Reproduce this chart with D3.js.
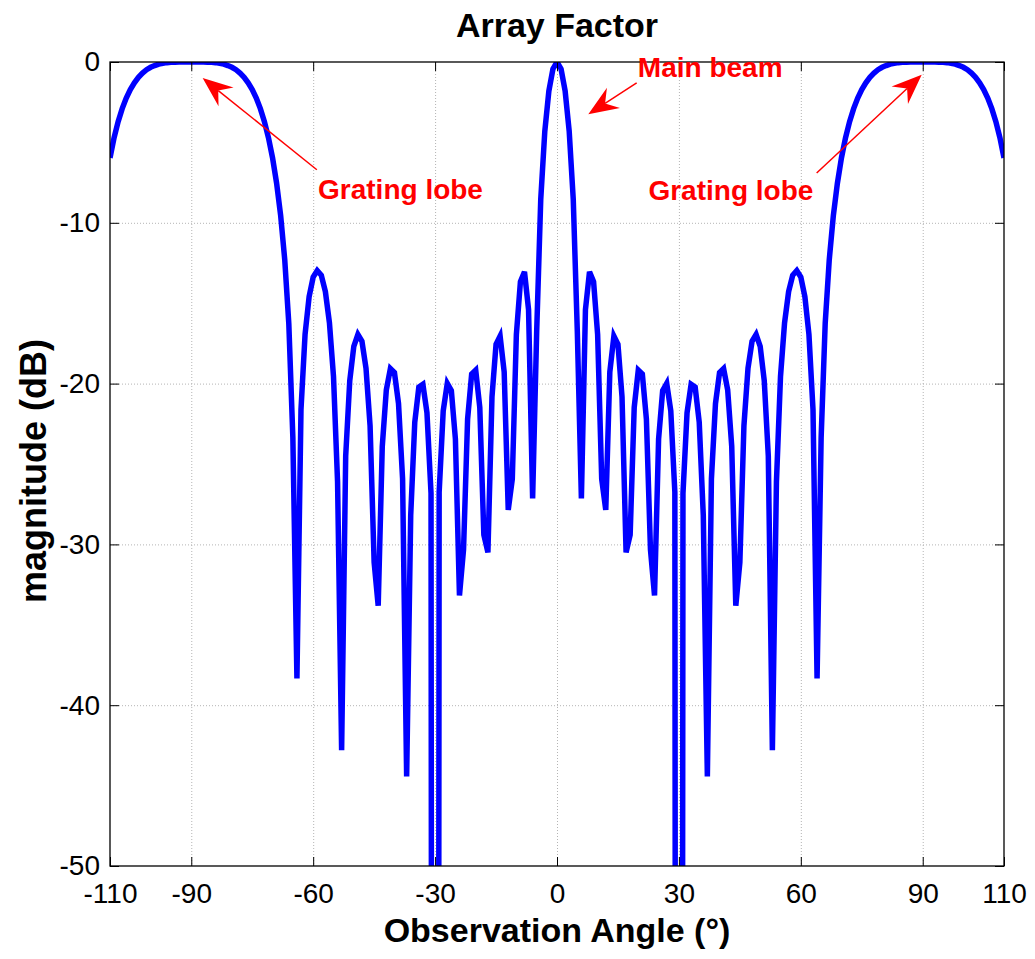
<!DOCTYPE html>
<html>
<head>
<meta charset="utf-8">
<script src="https://cdn.jsdelivr.net/npm/d3@7"></script>
<style>
body { margin: 0; background: #fff; }
svg { display: block; font-family: Arial, "Liberation Sans", sans-serif; }
</style>
</head>
<body>
<svg width="1035" height="959"></svg>
<script>
// observation angle (deg), one sample per degree
var angleDeg = [
  -110,-109,-108,-107,-106,-105,-104,-103,-102,-101,
  -100,-99,-98,-97,-96,-95,-94,-93,-92,-91,
  -90,-89,-88,-87,-86,-85,-84,-83,-82,-81,
  -80,-79,-78,-77,-76,-75,-74,-73,-72,-71,
  -70,-69,-68,-67,-66,-65,-64,-63,-62,-61,
  -60,-59,-58,-57,-56,-55,-54,-53,-52,-51,
  -50,-49,-48,-47,-46,-45,-44,-43,-42,-41,
  -40,-39,-38,-37,-36,-35,-34,-33,-32,-31,
  -30,-29,-28,-27,-26,-25,-24,-23,-22,-21,
  -20,-19,-18,-17,-16,-15,-14,-13,-12,-11,
  -10,-9,-8,-7,-6,-5,-4,-3,-2,-1,
  0,1,2,3,4,5,6,7,8,9,
  10,11,12,13,14,15,16,17,18,19,
  20,21,22,23,24,25,26,27,28,29,
  30,31,32,33,34,35,36,37,38,39,
  40,41,42,43,44,45,46,47,48,49,
  50,51,52,53,54,55,56,57,58,59,
  60,61,62,63,64,65,66,67,68,69,
  70,71,72,73,74,75,76,77,78,79,
  80,81,82,83,84,85,86,87,88,89,
  90,91,92,93,94,95,96,97,98,99,
  100,101,102,103,104,105,106,107,108,109,
  110
];

// magnitude (dB), nulls at +-30 fall far below the axis
var magnitudeDb = [
  -5.96,-4.71,-3.71,-2.90,-2.24,-1.71,-1.29,-0.95,-0.69,-0.48,
  -0.33,-0.22,-0.13,-0.08,-0.04,-0.02,-0.01,0,0,0,
  0,0,0,0,-0.01,-0.02,-0.04,-0.08,-0.13,-0.22,
  -0.33,-0.48,-0.69,-0.95,-1.29,-1.71,-2.24,-2.90,-3.71,-4.71,
  -5.96,-7.54,-9.56,-12.29,-16.26,-23.37,-38.33,-21.62,-16.95,-14.59,
  -13.38,-12.97,-13.26,-14.28,-16.22,-19.56,-26.11,-42.80,-24.51,-19.82,
  -17.68,-16.95,-17.37,-19.05,-22.62,-31.11,-33.81,-23.91,-20.39,-19.07,
  -19.32,-21.24,-25.93,-44.43,-28.20,-22.40,-20.22,-20.04,-21.82,-26.83,
  -300,-26.75,-21.69,-19.98,-20.43,-23.45,-33.18,-30.32,-22.21,-19.41,
  -19.16,-21.48,-29.41,-30.50,-20.82,-17.56,-17.05,-19.28,-27.86,-25.94,
  -16.95,-13.66,-13.05,-15.40,-27.14,-16.76,-8.54,-4.30,-1.80,-0.43,
  0,-0.43,-1.80,-4.30,-8.54,-16.76,-27.14,-15.40,-13.05,-13.66,
  -16.95,-25.94,-27.86,-19.28,-17.05,-17.56,-20.82,-30.50,-29.41,-21.48,
  -19.16,-19.41,-22.21,-30.32,-33.18,-23.45,-20.43,-19.98,-21.69,-26.75,
  -300,-26.83,-21.82,-20.04,-20.22,-22.40,-28.20,-44.43,-25.93,-21.24,
  -19.32,-19.07,-20.39,-23.91,-33.81,-31.11,-22.62,-19.05,-17.37,-16.95,
  -17.68,-19.82,-24.51,-42.80,-26.11,-19.56,-16.22,-14.28,-13.26,-12.97,
  -13.38,-14.59,-16.95,-21.62,-38.33,-23.37,-16.26,-12.29,-9.56,-7.54,
  -5.96,-4.71,-3.71,-2.90,-2.24,-1.71,-1.29,-0.95,-0.69,-0.48,
  -0.33,-0.22,-0.13,-0.08,-0.04,-0.02,-0.01,0,0,0,
  0,0,0,0,-0.01,-0.02,-0.04,-0.08,-0.13,-0.22,
  -0.33,-0.48,-0.69,-0.95,-1.29,-1.71,-2.24,-2.90,-3.71,-4.71,
  -5.96
];

var xTicks = [-110, -90, -60, -30, 0, 30, 60, 90, 110];
var yTicks = [0, -10, -20, -30, -40, -50];
var xGrid = [-90, -60, -30, 0, 30, 60, 90];
var yGrid = [-10, -20, -30, -40];

// annotations, in data units: label spot, arrow tail, arrow tip
var noteTexts = ["Grating lobe", "Main beam", "Grating lobe"];
var noteTextAt = [[-58.8, -8.5], [19.9, -0.95], [22.5, -8.6]];
var noteTail = [[-59.1, -6.7], [19.6, -1.3], [63.9, -6.9]];
var noteTip = [[-87.2, -1.0], [7.7, -3.25], [89.75, -0.8]];

var svg = d3.select("svg");
var plotLeft = 110, plotRight = 1004, plotTop = 62, plotBottom = 866;

var x = d3.scaleLinear().domain([-110, 110]).range([plotLeft, plotRight]);
var y = d3.scaleLinear().domain([-50, 0]).range([plotBottom, plotTop]);

svg.append("rect").attr("width", 1035).attr("height", 959).attr("fill", "#fff");

svg.append("clipPath").attr("id", "plotClip")
  .append("rect")
  .attr("x", plotLeft).attr("y", plotTop)
  .attr("width", plotRight - plotLeft).attr("height", plotBottom - plotTop);

// dotted grid
var grid = svg.append("g").attr("stroke", "#b4b4b4").attr("stroke-width", 1)
  .attr("stroke-dasharray", "1,2");
grid.selectAll(".gx").data(xGrid).enter().append("line")
  .attr("x1", function(d){return x(d) + 0.5}).attr("x2", function(d){return x(d) + 0.5})
  .attr("y1", plotTop).attr("y2", plotBottom);
grid.selectAll(".gy").data(yGrid).enter().append("line")
  .attr("y1", function(d){return y(d) + 0.5}).attr("y2", function(d){return y(d) + 0.5})
  .attr("x1", plotLeft).attr("x2", plotRight);

// the curve
var line = d3.line()
  .x(function(d, i){return x(angleDeg[i])})
  .y(function(d){return y(d)});

svg.append("path")
  .datum(magnitudeDb)
  .attr("clip-path", "url(#plotClip)")
  .attr("d", line)
  .attr("fill", "none")
  .attr("stroke", "#0000ff")
  .attr("stroke-width", 5.5);

// axes with inward ticks on all four sides
var fmt = function(d){return String(d)};
var styleAxis = function(g){
  g.select(".domain").remove();
  g.selectAll(".tick line").attr("stroke", "#000");
  g.selectAll(".tick text").attr("fill", "#000").attr("font-size", 28)
    .attr("font-family", "Arial, 'Liberation Sans', sans-serif");
};

svg.append("g").attr("transform", "translate(0," + plotBottom + ")")
  .call(d3.axisBottom(x).tickValues(xTicks).tickFormat(fmt).tickSizeInner(-9).tickSizeOuter(0).tickPadding(17))
  .call(styleAxis);
svg.append("g").attr("transform", "translate(" + plotLeft + ",0)")
  .call(d3.axisLeft(y).tickValues(yTicks).tickFormat(fmt).tickSizeInner(-9).tickSizeOuter(0).tickPadding(10))
  .call(styleAxis);
svg.append("g").attr("transform", "translate(0," + plotTop + ")")
  .call(d3.axisTop(x).tickValues(xTicks).tickFormat("").tickSizeInner(-9).tickSizeOuter(0))
  .call(styleAxis);
svg.append("g").attr("transform", "translate(" + plotRight + ",0)")
  .call(d3.axisRight(y).tickValues(yTicks).tickFormat("").tickSizeInner(-9).tickSizeOuter(0))
  .call(styleAxis);

svg.append("rect")
  .attr("x", plotLeft).attr("y", plotTop)
  .attr("width", plotRight - plotLeft).attr("height", plotBottom - plotTop)
  .attr("fill", "none").attr("stroke", "#000").attr("stroke-width", 1.3);

// titles
svg.append("text").attr("x", (plotLeft + plotRight) / 2).attr("y", 37)
  .attr("text-anchor", "middle").attr("font-size", 34).attr("font-weight", "bold")
  .text("Array Factor");
svg.append("text").attr("x", (plotLeft + plotRight) / 2).attr("y", 942)
  .attr("text-anchor", "middle").attr("font-size", 34).attr("font-weight", "bold")
  .text("Observation Angle (°)");
svg.append("text")
  .attr("transform", "translate(46," + ((plotTop + plotBottom) / 2 + 7) + ") rotate(-90)")
  .attr("text-anchor", "middle").attr("font-size", 36).attr("font-weight", "bold")
  .text("magnitude (dB)");

// arrows + labels
var notes = svg.append("g").attr("fill", "#ff0000").attr("stroke", "none");
noteTexts.forEach(function(t, i){
  var tx = x(noteTail[i][0]), ty = y(noteTail[i][1]);
  var hx = x(noteTip[i][0]), hy = y(noteTip[i][1]);
  var len = Math.hypot(hx - tx, hy - ty);
  var ux = (hx - tx) / len, uy = (hy - ty) / len;
  var px = -uy, py = ux;
  var L = 30, W = 12, notch = 20;
  notes.append("line")
    .attr("x1", tx).attr("y1", ty)
    .attr("x2", hx - ux * notch).attr("y2", hy - uy * notch)
    .attr("stroke", "#ff0000").attr("stroke-width", 1.5);
  var pts = [
    [hx, hy],
    [hx - ux * L + px * W, hy - uy * L + py * W],
    [hx - ux * notch, hy - uy * notch],
    [hx - ux * L - px * W, hy - uy * L - py * W]
  ];
  notes.append("path").attr("d", "M" + pts.join("L") + "Z");
  notes.append("text")
    .attr("x", x(noteTextAt[i][0])).attr("y", y(noteTextAt[i][1]))
    .attr("font-size", 28).attr("font-weight", "bold")
    .text(t);
});
</script>
</body>
</html>
